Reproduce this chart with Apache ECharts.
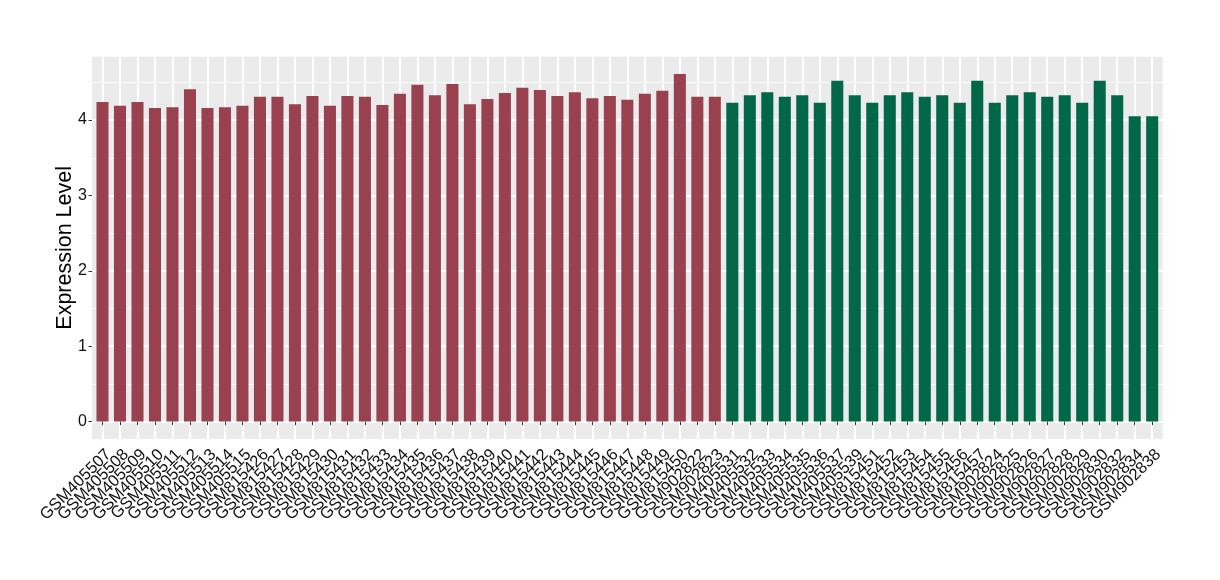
<!DOCTYPE html>
<html>
<head>
<meta charset="utf-8">
<script src="https://cdn.jsdelivr.net/npm/echarts@6/dist/echarts.min.js"></script>
<style>html,body{margin:0;padding:0;background:#fff}#chart{width:1220px;height:580px}</style>
</head>
<body>
<div id="chart"></div>
<script>
// ---- data ----
const groupALabels = ["GSM405507","GSM405508","GSM405509","GSM405510","GSM405511","GSM405512","GSM405513","GSM405514","GSM405515",
  "GSM815426","GSM815427","GSM815428","GSM815429","GSM815430","GSM815431","GSM815432","GSM815433","GSM815434","GSM815435",
  "GSM815436","GSM815437","GSM815438","GSM815439","GSM815440","GSM815441","GSM815442","GSM815443","GSM815444","GSM815445",
  "GSM815446","GSM815447","GSM815448","GSM815449","GSM815450","GSM902822","GSM902823"];
const groupAValues = [4.24,4.19,4.24,4.16,4.17,4.41,4.16,4.17,4.19,
  4.31,4.31,4.21,4.32,4.19,4.32,4.31,4.20,4.35,4.47,
  4.33,4.48,4.21,4.28,4.36,4.43,4.40,4.32,4.37,4.29,
  4.32,4.27,4.35,4.39,4.61,4.31,4.31];
const groupBLabels = ["GSM405531","GSM405532","GSM405533","GSM405534","GSM405535","GSM405536","GSM405537","GSM405539",
  "GSM815451","GSM815452","GSM815453","GSM815454","GSM815455","GSM815456","GSM815457",
  "GSM902824","GSM902825","GSM902826","GSM902827","GSM902828","GSM902829","GSM902830","GSM902832","GSM902834","GSM902838"];
const groupBValues = [4.23,4.33,4.37,4.31,4.33,4.23,4.52,4.33,
  4.23,4.33,4.37,4.31,4.33,4.23,4.52,
  4.23,4.33,4.37,4.31,4.33,4.23,4.52,4.33,4.05,4.05];
const yMajorTicks = [0,1,2,3,4];
const yMinorTicks = [0.5,1.5,2.5,3.5,4.5];
const yTitle = "Expression Level";

// ---- build ----
const categories = groupALabels.concat(groupBLabels);
const positions = categories.map((c,i)=>i+1);
const n = categories.length;
// empty guard labels at the very ends, so every real label is kept
const labelPositions = [0.45].concat(positions, [n+0.55]);
const dataA = groupAValues.map((v,i)=>[i+1, v]);
const dataB = groupBValues.map((v,i)=>[groupALabels.length+i+1, v]);
const allVals = groupAValues.concat(groupBValues);
const yMaxData = Math.max(...allVals);
const pad = yMaxData*0.05;
const yMin = -pad, yMax = yMaxData+pad;

const font = "Liberation Sans";
const chart = echarts.init(document.getElementById('chart'), null, {renderer:'canvas'});
const gridW = 1220-92-57.3;
const barW = 0.7*gridW/(n+1.2);

chart.setOption({
  animation:false,
  backgroundColor:'#ffffff',
  grid:{left:92, right:57.3, top:56.7, bottom:141, show:true, backgroundColor:'#EBEBEB', borderWidth:0, containLabel:false},
  xAxis:{
    type:'value', min:0.4, max:n+0.6,
    axisLine:{show:false},
    axisTick:{show:true, length:3.5, customValues:positions, lineStyle:{color:'#333333', width:1}},
    axisLabel:{show:true, customValues:labelPositions, rotate:45, margin:7, fontSize:16.5,
      align:'right', verticalAlign:'top',
      fontFamily:font, color:'#111111',
      hideOverlap:false, showMinLabel:false, showMaxLabel:false,
      formatter:(v)=>{ const i = Math.round(v)-1; return (Math.abs(v-(i+1))<1e-6 && categories[i]) ? categories[i] : ' '; }},
    splitLine:{show:true, lineStyle:{color:'#FFFFFF', width:2}}
  },
  yAxis:[{
    type:'value', min:yMin, max:yMax,
    name:yTitle, nameLocation:'middle', nameGap:16, nameRotate:90, nameMoveOverlap:false,
    nameTextStyle:{fontSize:21.5, fontFamily:font, color:'#000000'},
    axisLine:{show:false},
    axisTick:{show:true, length:3.5, customValues:yMajorTicks, lineStyle:{color:'#333333', width:1}},
    axisLabel:{show:true, customValues:yMajorTicks, margin:5, fontSize:16, fontFamily:font, color:'#111111',
      showMinLabel:true, showMaxLabel:true},
    splitLine:{show:true, lineStyle:{color:'#FFFFFF', width:2}}
  },{
    type:'value', min:yMin, max:yMax, position:'left',
    axisLine:{show:false}, axisLabel:{show:false},
    axisTick:{show:false, customValues:yMinorTicks},
    splitLine:{show:true, lineStyle:{color:'#FFFFFF', width:1}}
  }],
  series:[
    {type:'bar', name:'A', data:dataA, barWidth:barW, barGap:'-100%', itemStyle:{color:'#9A4150'}, yAxisIndex:0},
    {type:'bar', name:'B', data:dataB, barWidth:barW, barGap:'-100%', itemStyle:{color:'#006747'}, yAxisIndex:0}
  ]
});
</script>
</body>
</html>
